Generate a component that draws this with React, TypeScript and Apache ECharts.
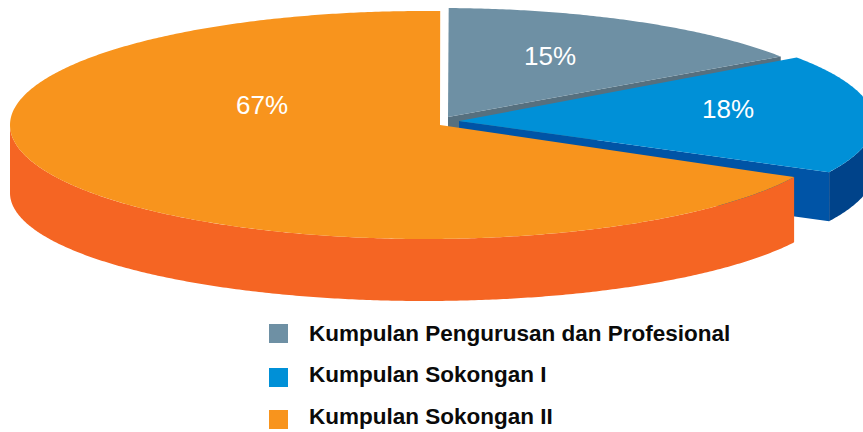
import React, { useEffect, useRef } from "react";
import * as echarts from "echarts";

const categories = [
  "Kumpulan Pengurusan dan Profesional",
  "Kumpulan Sokongan I",
  "Kumpulan Sokongan II",
];
const shares = [15, 18, 67];

const topColors = ["#6e90a4", "#0090d7", "#f8941d"];
const edgeColors = ["#56707f", "#0054a6", "#f56523"];
const rimColors = ["#56707f", "#00438a", "#f56523"];

type SliceLayout = {
  apex: [number, number];
  center: [number, number];
  rx: number;
  ry: number;
  start: number;
  sweepAdjust: number;
  depth: number;
  bottomShrink: number;
  labelAt: [number, number];
};

const layouts: SliceLayout[] = [
  { apex: [448, 117], center: [440, 121], rx: 415, ry: 113, start: -88.8, sweepAdjust: 0, depth: 50, bottomShrink: 0, labelAt: [550, 56] },
  { apex: [459, 121], center: [434, 122], rx: 440, ry: 114, start: -34.5, sweepAdjust: -4.2, depth: 49, bottomShrink: 0, labelAt: [728, 109] },
  { apex: [440, 125], center: [425, 125], rx: 415, ry: 114, start: 27.2, sweepAdjust: 3.7, depth: 68, bottomShrink: 6, labelAt: [262, 105] },
];

const rad = (d: number) => (d * Math.PI) / 180;

function renderSlice(index: number) {
  return (_params: any, api: any) => {
    const value = api.value(0) as number;
    const l = layouts[index];
    const end = l.start + value * 3.6 + l.sweepAdjust;
    const topPoint = (t: number): [number, number] => [
      l.center[0] + l.rx * Math.cos(rad(t)),
      l.center[1] + l.ry * Math.sin(rad(t)),
    ];
    const lowPoint = (t: number): [number, number] => [
      l.center[0] + l.rx * Math.cos(rad(t)),
      l.center[1] + l.depth + (l.ry - l.bottomShrink) * Math.sin(rad(t)),
    ];
    const arc = (a: number, b: number, f: (t: number) => [number, number]) => {
      const n = Math.max(2, Math.ceil(Math.abs(b - a) * 2));
      const pts: [number, number][] = [];
      for (let i = 0; i <= n; i++) pts.push(f(a + ((b - a) * i) / n));
      return pts;
    };
    const children: any[] = [];

    // inner wall along the slice's closing edge
    const corner = topPoint(end);
    const lowCorner = lowPoint(end);
    if (index < 2) {
      children.push({
        type: "polygon",
        shape: {
          points: [l.apex, corner, lowCorner, [l.apex[0], l.apex[1] + l.depth]],
        },
        style: { fill: edgeColors[index] },
      });
    }

    // outer rim, only where the arc faces the viewer
    const rimFrom = Math.max(l.start, -3);
    const rimTo = Math.min(end, 180);
    if (rimTo > rimFrom) {
      children.push({
        type: "polygon",
        shape: {
          points: [...arc(rimFrom, rimTo, topPoint), ...arc(rimTo, rimFrom, lowPoint)],
        },
        style: { fill: rimColors[index] },
      });
    }

    // top face
    children.push({
      type: "polygon",
      shape: { points: [l.apex, ...arc(l.start, end, topPoint)] },
      style: { fill: topColors[index] },
    });

    children.push({
      type: "text",
      x: l.labelAt[0],
      y: l.labelAt[1],
      style: {
        text: `${value}%`,
        fill: "#ffffff",
        font: '26px "Liberation Sans", Arial, sans-serif',
        align: "center",
        verticalAlign: "middle",
      },
    });

    return { type: "group", children };
  };
}

const legendFont = {
  fontFamily: '"Liberation Sans", Arial, sans-serif',
  fontWeight: "bold",
  fontSize: 22.5,
  color: "#0a0a0a",
};

export default function App() {
  const ref = useRef<HTMLDivElement>(null);
  useEffect(() => {
    document.body.style.margin = "0";
    const chart = echarts.init(ref.current!, undefined, { renderer: "svg" });
    chart.setOption({
      animation: false,
      backgroundColor: "#ffffff",
      legend: {
        orient: "vertical",
        left: 269,
        top: 322,
        width: 560,
        height: 300,
        padding: 0,
        icon: "rect",
        itemWidth: 19,
        itemHeight: 19,
        itemGap: 18,
        itemStyle: { borderWidth: 0 },
        selectedMode: false,
        formatter: (name: string) =>
          name === categories[0] ? `{first|${name}}` : `{rest|${name}}`,
        textStyle: {
          ...legendFont,
          rich: {
            first: { ...legendFont, padding: [3, 0, 3, 16] },
            rest: { ...legendFont, padding: [0, 0, 6, 16] },
          },
        },
        data: categories.map((name) => ({ name })),
      },
      series: categories.map((name, i) => ({
        type: "custom",
        name,
        coordinateSystem: "none",
        silent: true,
        itemStyle: { color: topColors[i] },
        data: [[shares[i]]],
        renderItem: renderSlice(i),
      })),
    });
    return () => chart.dispose();
  }, []);
  return <div ref={ref} style={{ width: 863, height: 432 }} />;
}
